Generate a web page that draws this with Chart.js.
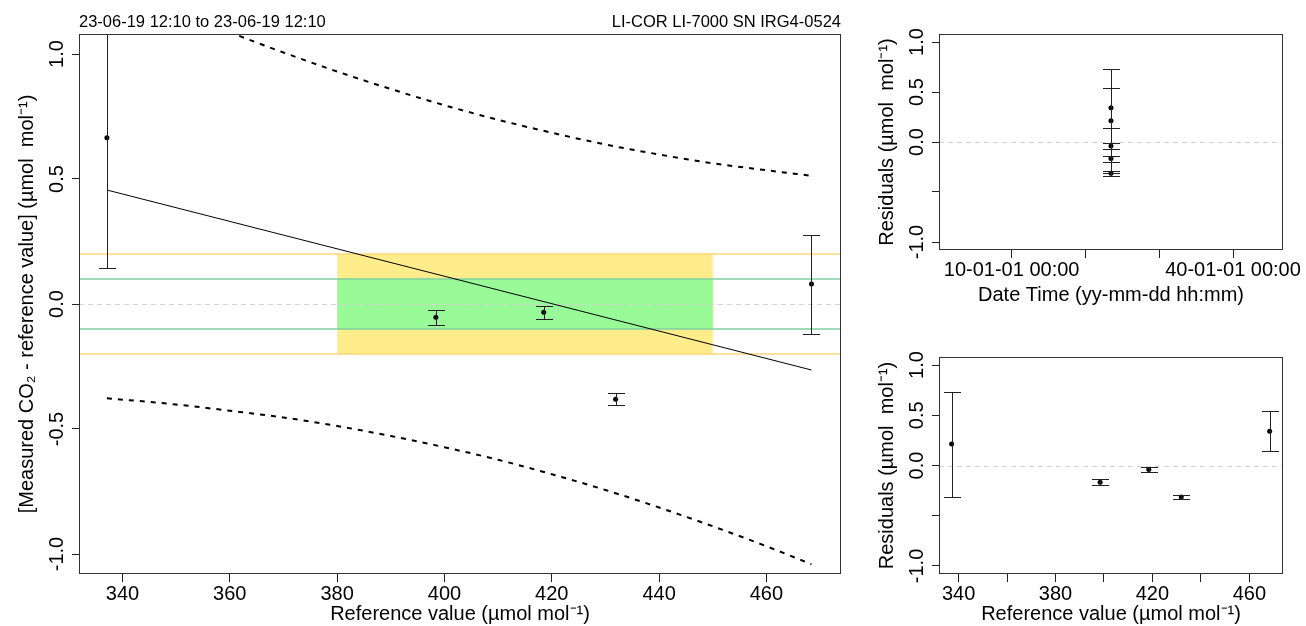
<!DOCTYPE html>
<html>
<head>
<meta charset="utf-8">
<script src="https://cdn.jsdelivr.net/npm/chart.js@4.4.0/dist/chart.umd.min.js"></script>
<style>
  html, body { margin: 0; padding: 0; background: #fff; }
  #wrap { position: relative; width: 1306px; height: 626px; }
  #wrap canvas { position: absolute; }
</style>
</head>
<body>
<div id="wrap">
  <canvas id="main" width="860" height="626" style="left:0;top:0"></canvas>
  <canvas id="resTime" width="446" height="313" style="left:860px;top:0"></canvas>
  <canvas id="resRef" width="446" height="313" style="left:860px;top:313px"></canvas>
</div>
<script>
// reference gas values and measured minus reference (µmol mol-1)
const refValue = [337.1, 398.4, 418.5, 431.9, 468.4];
const measDiff = [0.665, -0.053, -0.033, -0.381, 0.080];
const diffUnc  = [0.522, 0.031, 0.027, 0.024, 0.198];
const residual = [0.213, -0.166, -0.040, -0.313, 0.342];
// all cylinders measured in the same run (decimal year)
const sampleTime = [2023.464, 2023.464, 2023.464, 2023.464, 2023.464];

// linear fit and its confidence band
const fitX = [337.1, 468.4];
const fitY = [0.456, -0.264];
const bandX     = [337.1, 350, 360, 370, 380, 390, 400, 410, 420, 430, 440, 450, 460, 468.4];
const bandUpper = [1.289, 1.172, 1.087, 1.006, 0.930, 0.860, 0.795, 0.737, 0.685, 0.638, 0.598, 0.563, 0.535, 0.513];
const bandLower = [-0.377, -0.402, -0.427, -0.454, -0.488, -0.528, -0.573, -0.623, -0.681, -0.744, -0.814, -0.889, -0.969, -1.041];

// compatibility goals
const goalRange = [380, 450];
const goalOuter = 0.2;
const goalInner = 0.1;

// ticks
const yTicks = [-1, -0.5, 0, 0.5, 1];
const yTickLabels = ['-1.0', '-0.5', '0.0', '0.5', '1.0'];
const resTickLabels = ['-1.0', '', '0.0', '0.5', '1.0'];
const refTicks = [340, 360, 380, 400, 420, 440, 460];
const refTickLabels = ['340', '360', '380', '400', '420', '440', '460'];
const refTickLabelsSmall = ['340', '', '380', '', '420', '', '460'];
const timeTicks = [2010, 2020, 2030, 2040];
const timeTickLabels = ['10-01-01 00:00', '', '', '40-01-01 00:00'];

const FONT = "'Liberation Sans', Arial, sans-serif";
const INK = '#222';

const pts = (xs, ys) => xs.map((v, i) => ({ x: v, y: ys[i] }));

function xAxis(min, max, ticks, labels, title, height, titlePad) {
  return {
    type: 'linear', min, max,
    afterBuildTicks: s => { s.ticks = ticks.map(v => ({ value: v })); },
    afterFit: s => { s.height = height; },
    grid: { drawOnChartArea: false, tickLength: 8, color: INK },
    border: { display: false },
    ticks: {
      autoSkip: false, maxRotation: 0, padding: 0, color: '#000',
      font: { family: FONT, size: 20 },
      callback: (v, i) => labels[i]
    },
    title: { display: true, text: title, color: '#000', font: { family: FONT, size: 20 }, padding: { top: 0, bottom: titlePad } }
  };
}

function yAxis(labels, title) {
  return {
    type: 'linear', min: -1.08, max: 1.08,
    afterBuildTicks: s => { s.ticks = yTicks.map(v => ({ value: v })); },
    afterFit: s => { s.width = 79; },
    grid: { drawOnChartArea: false, tickLength: 7, color: INK },
    border: { display: false },
    ticks: {
      autoSkip: false, minRotation: 90, maxRotation: 90, crossAlign: 'center', padding: -2.4,
      color: '#000', font: { family: FONT, size: 20 },
      callback: (v, i) => labels[i]
    },
    title: { display: true, text: title, color: '#000', font: { family: FONT, size: 20 }, padding: { top: 15, bottom: 0 } }
  };
}

// goal rectangles, limit lines and the dashed zero line
function panelBack(withGoals) {
  return {
    id: 'panelBack',
    beforeDatasetsDraw(chart) {
      const { ctx, chartArea: a, scales: { x, y } } = chart;
      ctx.save();
      ctx.beginPath(); ctx.rect(a.left, a.top, a.width, a.height); ctx.clip();
      if (withGoals) {
        const x0 = x.getPixelForValue(goalRange[0]), x1 = x.getPixelForValue(goalRange[1]);
        const o0 = y.getPixelForValue(goalOuter), o1 = y.getPixelForValue(-goalOuter);
        const i0 = y.getPixelForValue(goalInner), i1 = y.getPixelForValue(-goalInner);
        ctx.fillStyle = '#FFEC8B';
        ctx.fillRect(x0, o0, x1 - x0, o1 - o0);
        ctx.fillStyle = '#98FB98';
        ctx.fillRect(x0, i0, x1 - x0, i1 - i0);
        ctx.lineWidth = 1.5;
        [[o0, '#FFD77A'], [o1, '#FFD77A'], [i0, '#7FCF9F'], [i1, '#7FCF9F']].forEach(([py, c]) => {
          ctx.strokeStyle = c;
          ctx.beginPath(); ctx.moveTo(a.left, py); ctx.lineTo(a.right, py); ctx.stroke();
        });
      }
      const zy = Math.round(y.getPixelForValue(0)) + 0.5;
      ctx.strokeStyle = '#D3D3D3';
      ctx.lineWidth = 1;
      ctx.setLineDash([5, 4]);
      ctx.beginPath(); ctx.moveTo(a.left, zy); ctx.lineTo(a.right, zy); ctx.stroke();
      ctx.restore();
    }
  };
}

// error bars with caps, plus the frame around the plot region
function panelFront(xs, ys, err, header) {
  return {
    id: 'panelFront',
    afterDatasetsDraw(chart) {
      const { ctx, chartArea: a, scales: { x, y } } = chart;
      ctx.save();
      ctx.beginPath(); ctx.rect(a.left, a.top, a.width, a.height); ctx.clip();
      ctx.strokeStyle = INK;
      ctx.lineWidth = 1;
      xs.forEach((xv, i) => {
        const cx = Math.round(x.getPixelForValue(xv)) + 0.5;
        const yt = Math.round(y.getPixelForValue(ys[i] + err[i])) + 0.5;
        const yb = Math.round(y.getPixelForValue(ys[i] - err[i])) + 0.5;
        ctx.beginPath();
        ctx.moveTo(cx, yt); ctx.lineTo(cx, yb);
        ctx.moveTo(cx - 8.5, yt); ctx.lineTo(cx + 8.5, yt);
        ctx.moveTo(cx - 8.5, yb); ctx.lineTo(cx + 8.5, yb);
        ctx.stroke();
      });
      ctx.restore();

      ctx.save();
      ctx.strokeStyle = '#333';
      ctx.lineWidth = 1;
      const l = Math.round(a.left) + 0.5, t = Math.round(a.top) + 0.5;
      const r = Math.round(a.right) - 0.5, b = Math.round(a.bottom) - 0.5;
      ctx.strokeRect(l, t, r - l, b - t);
      if (header) {
        ctx.fillStyle = '#000';
        ctx.font = '16.5px ' + FONT;
        ctx.textBaseline = 'middle';
        ctx.textAlign = 'left';
        ctx.fillText(header[0], a.left, 22.5);
        ctx.textAlign = 'right';
        ctx.fillText(header[1], a.right, 22.5);
      }
      ctx.restore();
    }
  };
}

const dotStyle = { pointRadius: 2.5, pointBackgroundColor: '#000', pointBorderWidth: 0, showLine: false };

// main panel: deviation from reference vs reference value
new Chart(document.getElementById('main'), {
  type: 'scatter',
  data: {
    datasets: [
      { data: pts(refValue, measDiff), ...dotStyle },
      { data: pts(fitX, fitY), showLine: true, borderColor: '#000', borderWidth: 1, pointRadius: 0 },
      { data: pts(bandX, bandUpper), showLine: true, borderColor: '#000', borderWidth: 2, borderDash: [5, 6], pointRadius: 0, cubicInterpolationMode: 'monotone' },
      { data: pts(bandX, bandLower), showLine: true, borderColor: '#000', borderWidth: 2, borderDash: [5, 6], pointRadius: 0, cubicInterpolationMode: 'monotone' }
    ]
  },
  options: {
    responsive: false, animation: false,
    layout: { padding: { top: 34, right: 19, left: 0, bottom: 0 } },
    plugins: { legend: { display: false }, tooltip: { enabled: false } },
    scales: {
      x: xAxis(331.9, 473.9, refTicks, refTickLabels, 'Reference value (µmol mol⁻¹)', 52, 0),
      y: yAxis(yTickLabels, '[Measured CO₂ - reference value] (µmol  mol⁻¹)')
    }
  },
  plugins: [panelBack(true), panelFront(refValue, measDiff, diffUnc,
    ['23-06-19 12:10 to 23-06-19 12:10', 'LI-COR LI-7000 SN IRG4-0524'])]
});

// residuals against measurement time
new Chart(document.getElementById('resTime'), {
  type: 'scatter',
  data: { datasets: [{ data: pts(sampleTime, residual), ...dotStyle }] },
  options: {
    responsive: false, animation: false,
    layout: { padding: { top: 34, right: 23, left: 0, bottom: 0 } },
    plugins: { legend: { display: false }, tooltip: { enabled: false } },
    scales: {
      x: xAxis(2000.16, 2046.77, timeTicks, timeTickLabels, 'Date Time (yy-mm-dd hh:mm)', 63, 6),
      y: yAxis(resTickLabels, 'Residuals (µmol  mol⁻¹)')
    }
  },
  plugins: [panelBack(false), panelFront(sampleTime, residual, diffUnc, null)]
});

// residuals against reference value
new Chart(document.getElementById('resRef'), {
  type: 'scatter',
  data: { datasets: [{ data: pts(refValue, residual), ...dotStyle }] },
  options: {
    responsive: false, animation: false,
    layout: { padding: { top: 44, right: 23, left: 0, bottom: 0 } },
    plugins: { legend: { display: false }, tooltip: { enabled: false } },
    scales: {
      x: xAxis(331.9, 473.9, refTicks, refTickLabelsSmall, 'Reference value (µmol mol⁻¹)', 52, 0),
      y: yAxis(resTickLabels, 'Residuals (µmol  mol⁻¹)')
    }
  },
  plugins: [panelBack(false), panelFront(refValue, residual, diffUnc, null)]
});
</script>
</body>
</html>
